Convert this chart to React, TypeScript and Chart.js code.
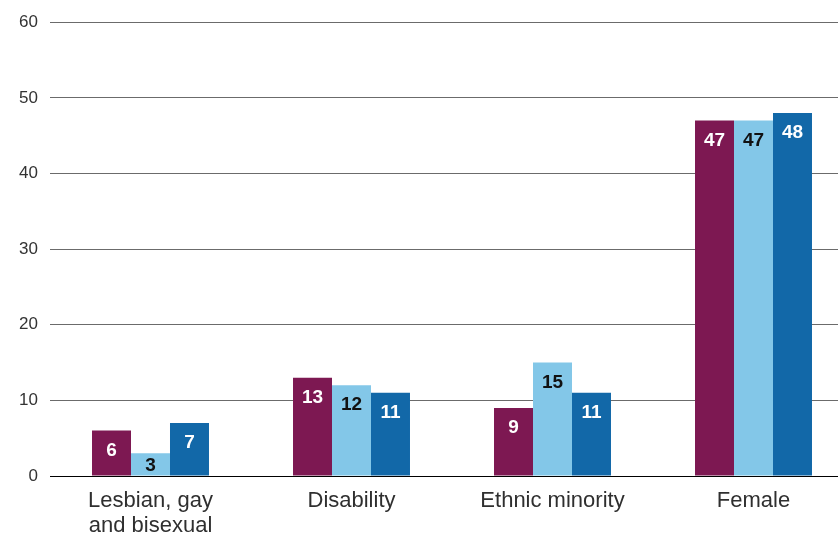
import React, { useEffect, useRef } from "react";
import { Chart, registerables } from "chart.js";

Chart.register(...registerables);

const categories: (string | string[])[] = [
  ["Lesbian, gay", "and bisexual"],
  "Disability",
  "Ethnic minority",
  "Female",
];
const seriesA = [6, 13, 9, 47];
const seriesB = [3, 12, 15, 47];
const seriesC = [7, 11, 11, 48];
const seriesNames = ["Series A", "Series B", "Series C"];
const seriesColors = ["#7d1852", "#83c7e8", "#1268a8"];
const labelColors = ["#ffffff", "#111111", "#ffffff"];
const yTicks = [0, 10, 20, 30, 40, 50, 60];

const FONT = "'Liberation Sans', Arial, Helvetica, sans-serif";

const valueLabels = {
  id: "valueLabels",
  afterDatasetsDraw(chart: any) {
    const ctx = chart.ctx;
    ctx.save();
    ctx.font = `bold 19px ${FONT}`;
    ctx.textAlign = "center";
    ctx.textBaseline = "middle";
    chart.data.datasets.forEach((ds: any, i: number) => {
      const meta = chart.getDatasetMeta(i);
      meta.data.forEach((bar: any, j: number) => {
        const top = bar.y;
        const base = bar.base;
        const y = Math.min(top + 19, (top + base) / 2);
        ctx.fillStyle = labelColors[i];
        ctx.fillText(String(ds.data[j]), bar.x, y + 1);
      });
    });
    ctx.restore();
  },
};

export default function App() {
  const ref = useRef<HTMLCanvasElement>(null);
  useEffect(() => {
    if (!ref.current) return;
    const chart = new Chart(ref.current, {
      type: "bar",
      data: {
        labels: categories,
        datasets: [seriesA, seriesB, seriesC].map((d, i) => ({
          label: seriesNames[i],
          data: d,
          backgroundColor: seriesColors[i],
          borderWidth: 0,
          categoryPercentage: 0.582,
          barPercentage: 1,
        })),
      },
      options: {
        animation: false,
        responsive: false,
        maintainAspectRatio: false,
        layout: { padding: { top: 22, left: 0, right: 0, bottom: 0 } },
        plugins: { legend: { display: false }, tooltip: { enabled: false } },
        scales: {
          x: {
            grid: { display: false, drawTicks: false },
            border: { display: false },
            ticks: {
              color: "#2f2f2f",
              font: { family: FONT, size: 22, lineHeight: 1.12 },
              padding: 13,
              maxRotation: 0,
              autoSkip: false,
            },
            afterFit: (axis: any) => {
              axis.height = 58;
            },
          },
          y: {
            min: 0,
            max: 60,
            afterBuildTicks: (axis: any) => {
              axis.ticks = yTicks.map((v) => ({ value: v }));
            },
            grid: {
              drawTicks: false,
              color: (c: any) => (c.tick && c.tick.value === 0 ? "#000000" : "#6b6b6b"),
              lineWidth: 1,
            },
            border: { display: false },
            ticks: {
              color: "#333",
              font: { family: FONT, size: 17 },
              padding: 12,
            },
            afterFit: (axis: any) => {
              axis.width = 50;
            },
          },
        },
      },
      plugins: [valueLabels],
    });
    return () => chart.destroy();
  }, []);
  return (
    <div
      style={{
        position: "fixed",
        left: 0,
        top: 0,
        width: 838,
        height: 534,
        overflow: "hidden",
        background: "#fff",
      }}
    >
      <canvas ref={ref} width={854} height={534} style={{ width: 854, height: 534, display: "block" }} />
    </div>
  );
}
